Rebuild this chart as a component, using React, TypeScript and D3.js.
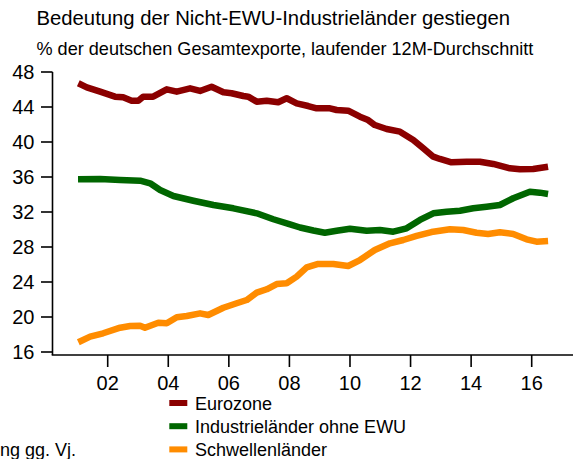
import React from "react";
import * as d3 from "d3";

const title = "Bedeutung der Nicht-EWU-Industrieländer gestiegen";
const subtitle = "% der deutschen Gesamtexporte, laufender 12M-Durchschnitt";
const footnote = "ng gg. Vj.";

const yTicks = [16, 20, 24, 28, 32, 36, 40, 44, 48];
const xTicks = [2002, 2004, 2006, 2008, 2010, 2012, 2014, 2016];
const xTickLabels = ["02", "04", "06", "08", "10", "12", "14", "16"];

const seriesNames = ["Eurozone", "Industrieländer ohne EWU", "Schwellenländer"];
const seriesColors = ["#8B0000", "#006600", "#FF8C00"];

const eurozone: [number, number][] = [
  [2001.03, 46.71], [2001.31, 46.25], [2001.75, 45.75], [2002.24, 45.18], [2002.51, 45.11],
  [2002.79, 44.72], [2003.01, 44.72], [2003.17, 45.18], [2003.5, 45.18], [2003.95, 46.02],
  [2004.28, 45.75], [2004.72, 46.14], [2005.05, 45.83], [2005.43, 46.32], [2005.82, 45.68],
  [2006.09, 45.57], [2006.48, 45.26], [2006.64, 45.18], [2006.92, 44.61], [2007.25, 44.72],
  [2007.63, 44.54], [2007.91, 45.0], [2008.24, 44.42], [2008.62, 44.11], [2008.9, 43.85],
  [2009.34, 43.85], [2009.56, 43.66], [2009.94, 43.58], [2010.33, 42.89], [2010.6, 42.51],
  [2010.82, 41.94], [2011.21, 41.49], [2011.65, 41.18], [2012.09, 40.23], [2012.42, 39.28],
  [2012.75, 38.32], [2012.97, 38.06], [2013.35, 37.68], [2013.85, 37.75], [2014.29, 37.75],
  [2014.73, 37.49], [2015.28, 36.99], [2015.61, 36.88], [2016.05, 36.91], [2016.54, 37.18],
];

const industrialNonEmu: [number, number][] = [
  [2001.02, 35.74], [2001.75, 35.77], [2002.41, 35.66], [2003.07, 35.58], [2003.4, 35.28],
  [2003.73, 34.51], [2004.17, 33.83], [2004.83, 33.29], [2005.49, 32.8], [2006.15, 32.42],
  [2006.92, 31.85], [2007.47, 31.17], [2008.02, 30.59], [2008.35, 30.23], [2008.79, 29.89],
  [2009.17, 29.63], [2009.56, 29.86], [2010.0, 30.09], [2010.55, 29.86], [2010.99, 29.94],
  [2011.43, 29.75], [2011.87, 30.14], [2012.31, 31.09], [2012.75, 31.85], [2013.19, 32.03],
  [2013.63, 32.15], [2014.07, 32.42], [2014.51, 32.61], [2014.95, 32.8], [2015.39, 33.57],
  [2015.94, 34.32], [2016.27, 34.21], [2016.54, 34.06],
];

const emerging: [number, number][] = [
  [2001.03, 17.11], [2001.42, 17.75], [2001.85, 18.14], [2002.41, 18.78], [2002.74, 18.97],
  [2003.07, 19.01], [2003.23, 18.78], [2003.67, 19.35], [2003.95, 19.28], [2004.28, 19.97],
  [2004.61, 20.11], [2005.05, 20.42], [2005.32, 20.23], [2005.82, 21.06], [2006.26, 21.57],
  [2006.59, 21.94], [2006.92, 22.78], [2007.25, 23.17], [2007.58, 23.77], [2007.91, 23.85],
  [2008.24, 24.61], [2008.57, 25.66], [2008.95, 26.06], [2009.45, 26.06], [2009.94, 25.83],
  [2010.33, 26.51], [2010.82, 27.66], [2011.32, 28.42], [2011.76, 28.8], [2012.2, 29.26],
  [2012.69, 29.71], [2013.3, 30.02], [2013.74, 29.94], [2014.18, 29.63], [2014.56, 29.49],
  [2014.95, 29.68], [2015.39, 29.49], [2015.83, 28.88], [2016.16, 28.61], [2016.54, 28.69],
];

const allSeries = [eurozone, industrialNonEmu, emerging];

export default function App() {
  const W = 573;
  const H = 459;
  const font = "Arial, 'Liberation Sans', sans-serif";
  const x = d3.scaleLinear().domain([2002, 2016]).range([107.7, 531.7]);
  const y = d3.scaleLinear().domain([16, 48]).range([352, 72]);
  const axisX = 52.5;
  const axisY = 355;
  const line = d3
    .line<[number, number]>()
    .x((d) => x(d[0]))
    .y((d) => y(d[1]))
    .curve(d3.curveLinear);

  return (
    <svg
      width={W}
      height={H}
      style={{ position: "absolute", left: 0, top: 0, background: "#fff" }}
      fontFamily={font}
    >
      <rect x={0} y={0} width={W} height={H} fill="#fff" />
      <text x={36.5} y={25} fontSize={20.3} fill="#000">{title}</text>
      <text x={36.5} y={54.5} fontSize={18.1} fill="#000">{subtitle}</text>

      {/* y axis */}
      <line x1={axisX} x2={axisX} y1={y(48)} y2={axisY} stroke="#000" strokeWidth={1.6} />
      {yTicks.map((t) => (
        <g key={t}>
          <line x1={41} x2={axisX} y1={y(t)} y2={y(t)} stroke="#000" strokeWidth={1.6} />
          <text x={34.5} y={y(t) + 7} fontSize={20} textAnchor="end" fill="#000">{t}</text>
        </g>
      ))}

      {/* x axis */}
      <line x1={axisX - 0.8} x2={W} y1={axisY} y2={axisY} stroke="#000" strokeWidth={1.6} />
      {xTicks.map((t, i) => (
        <g key={t}>
          <line x1={x(t)} x2={x(t)} y1={axisY} y2={367} stroke="#000" strokeWidth={1.6} />
          <text x={x(t)} y={390} fontSize={20} textAnchor="middle" fill="#000">{xTickLabels[i]}</text>
        </g>
      ))}

      {/* series */}
      {allSeries.map((s, i) => (
        <path
          key={i}
          d={line(s) || ""}
          fill="none"
          stroke={seriesColors[i]}
          strokeWidth={6.5}
          strokeLinejoin="round"
          strokeLinecap="butt"
        />
      ))}

      {/* legend */}
      {seriesNames.map((n, i) => (
        <g key={n}>
          <rect x={169.3} y={400 + i * 23.2} width={18} height={6} fill={seriesColors[i]} />
          <text x={195} y={409.5 + i * 23.2} fontSize={18} fill="#000">{n}</text>
        </g>
      ))}

      <text x={76} y={455.5} fontSize={18} textAnchor="end" fill="#000">{footnote}</text>
    </svg>
  );
}
